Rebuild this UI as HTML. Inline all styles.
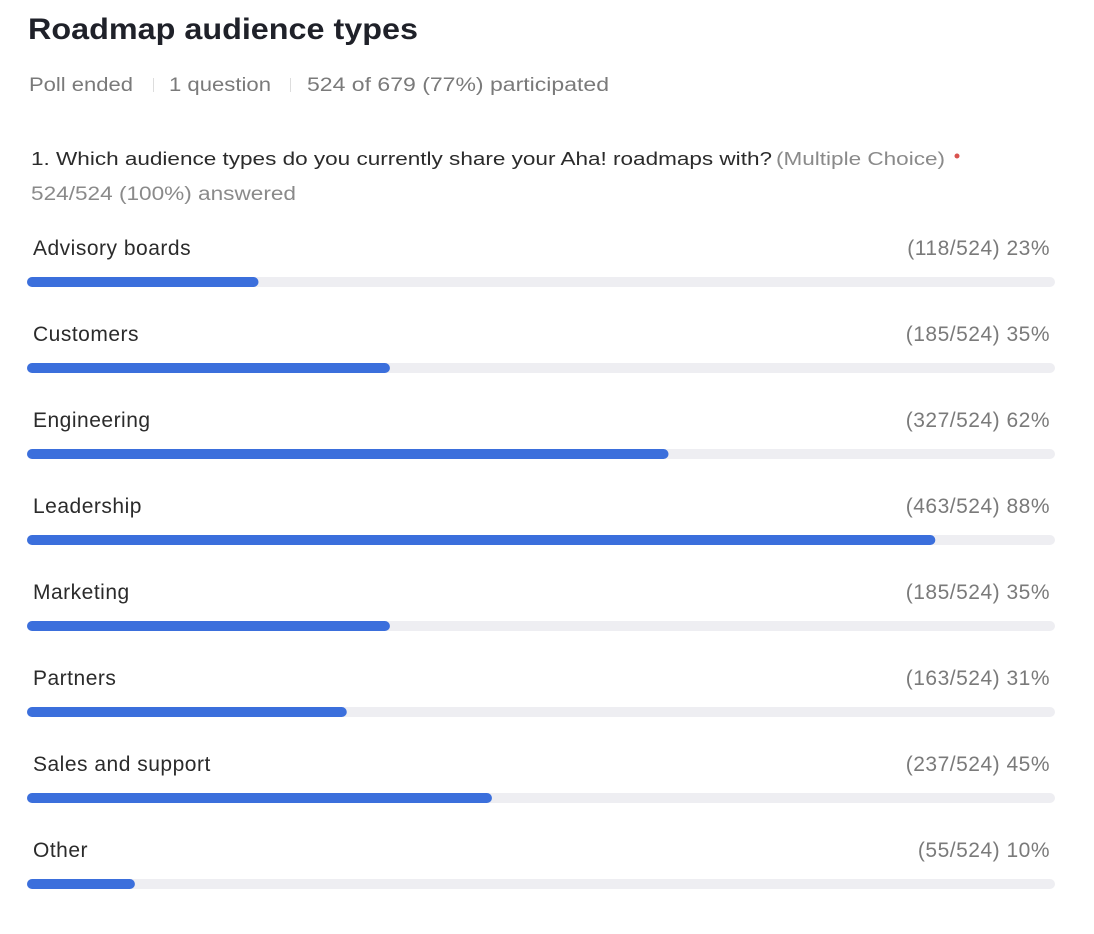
<!DOCTYPE html>
<html><head><meta charset="utf-8">
<style>
html,body{margin:0;padding:0;background:#fff;}
svg{display:block;font-family:"Liberation Sans",Arial,sans-serif;}
</style></head>
<body>
<svg id="chart" width="1094" height="934" viewBox="0 0 1094 934" xmlns="http://www.w3.org/2000/svg">
  <text x="28" y="39" font-size="30" font-weight="bold" fill="#1f2129" textLength="390" lengthAdjust="spacingAndGlyphs">Roadmap audience types</text>
  <text x="29" y="91" font-size="19" fill="#7a7a7a" textLength="104" lengthAdjust="spacingAndGlyphs">Poll ended</text>
  <rect x="153" y="78" width="1" height="14" fill="#ddd"/>
  <text x="169" y="91" font-size="19" fill="#7a7a7a" textLength="102" lengthAdjust="spacingAndGlyphs">1 question</text>
  <rect x="290" y="78" width="1" height="14" fill="#ddd"/>
  <text x="307" y="91" font-size="19" fill="#7a7a7a" textLength="302" lengthAdjust="spacingAndGlyphs">524 of 679 (77%) participated</text>
  <text x="31" y="165" font-size="18" fill="#2b2b2b" textLength="741" lengthAdjust="spacingAndGlyphs">1. Which audience types do you currently share your Aha! roadmaps with?</text>
  <text x="776" y="165" font-size="18" fill="#8a8a8a" textLength="169" lengthAdjust="spacingAndGlyphs">(Multiple Choice)</text>
  <circle cx="957" cy="156" r="2.5" fill="#d9534f"/>
  <text x="31" y="200" font-size="19" fill="#8a8a8a" textLength="265" lengthAdjust="spacingAndGlyphs">524/524 (100%) answered</text>
  <g id="rows"></g>
</svg>
<script>
const categories = ["Advisory boards","Customers","Engineering","Leadership","Marketing","Partners","Sales and support","Other"];
const counts = [118,185,327,463,185,163,237,55];
const percents = [23,35,62,88,35,31,45,10];
const total = 524;

const NS = "http://www.w3.org/2000/svg";
const g = document.getElementById("rows");
const x0 = 27, trackW = 1028, y0 = 277, step = 86, barH = 10;
const xScale = v => (v / total) * trackW;
function mk(tag, attrs){const e=document.createElementNS(NS,tag);for(const k in attrs)e.setAttribute(k,attrs[k]);return e;}
categories.forEach((c,i)=>{
  const y = y0 + i*step;
  const lab = mk("text",{x:33,y:y-22,"font-size":21,"letter-spacing":0.5,fill:"#2b2b2b"});
  
  
  lab.textContent = c; g.appendChild(lab);
  const val = mk("text",{x:1050,y:y-22,"font-size":21,"letter-spacing":0.5,fill:"#7a7a7a","text-anchor":"end"});
  
  
  val.textContent = "(" + counts[i] + "/" + total + ") " + percents[i] + "%"; g.appendChild(val);
  const tr = mk("rect",{x:x0,y:y,width:trackW,height:barH,rx:5,fill:"#eeeef2"});
  
  
  g.appendChild(tr);
  const b = mk("rect",{x:x0,y:y,width:xScale(counts[i]),height:barH,rx:5,fill:"#3b6fdc"});
  
  
  g.appendChild(b);
});
</script>
</body></html>
